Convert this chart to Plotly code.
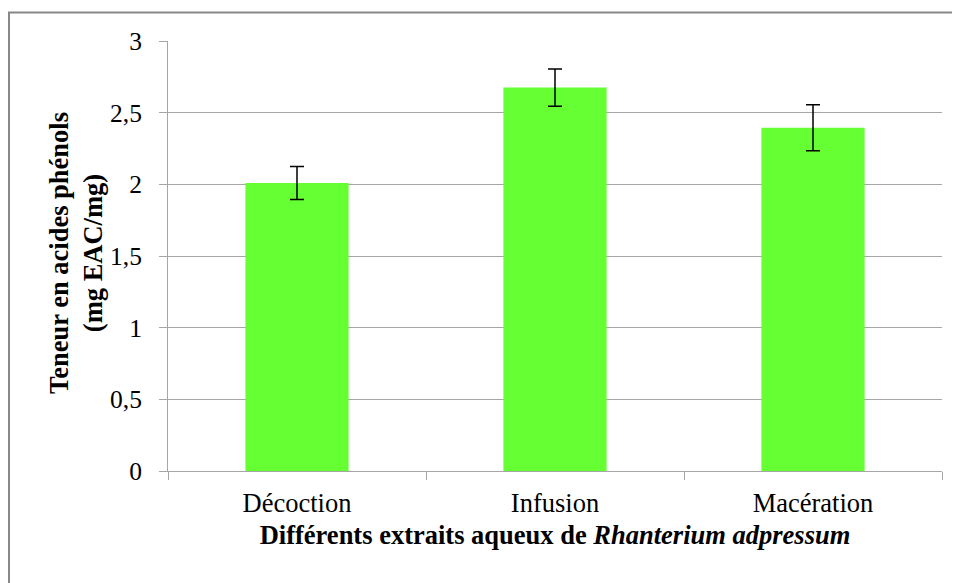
import plotly.graph_objects as go

categories = ["Décoction", "Infusion", "Macération"]
values = [2.01, 2.675, 2.395]
errors = [0.115, 0.13, 0.16]
y_ticks = [0, 0.5, 1, 1.5, 2, 2.5, 3]

FONT = "Liberation Serif"
GRID = "#A6A6A6"

# page body has an 8px margin: figure spans x 8..960, y 8..583
W, H = 952, 575
L, T, R = 160, 33, 18
PH = 430
B = H - T - PH
PW = W - L - R

fig = go.Figure(
    go.Bar(
        x=categories,
        y=values,
        marker=dict(color="#66FF33", line=dict(width=0)),
        error_y=dict(type="data", array=errors, color="black", thickness=1.5, width=7),
    )
)

fig.update_layout(
    width=W,
    height=H,
    margin=dict(l=L, r=R, t=T, b=B),
    paper_bgcolor="white",
    plot_bgcolor="white",
    separators=", ",
    bargap=0.6,
    showlegend=False,
    font=dict(family=FONT, size=26, color="black"),
    xaxis=dict(
        tickson="boundaries",
        ticks="outside",
        ticklen=8,
        tickcolor=GRID,
        showline=True,
        linecolor=GRID,
        linewidth=1,
        showgrid=False,
        ticklabelstandoff=8,
        tickfont=dict(family=FONT, size=26.5),
        title=dict(
            text="<b>Différents extraits aqueux de <i>Rhanterium adpressum</i></b>",
            font=dict(family=FONT, size=26.5),
            standoff=8,
        ),
    ),
    yaxis=dict(
        range=[0, 3],
        tickvals=y_ticks,
        ticks="outside",
        ticklen=8,
        tickcolor=GRID,
        showline=True,
        linecolor=GRID,
        linewidth=1,
        showgrid=True,
        gridcolor=GRID,
        gridwidth=1,
        zeroline=False,
        ticklabelstandoff=12,
        tickfont=dict(family=FONT, size=25.5),
    ),
    annotations=[
        dict(
            text="<b>Teneur en acides phénols<br>(mg EAC/mg)</b>",
            xref="paper",
            yref="paper",
            x=(68 - L) / PW,
            y=1 - (253 - 8 - T) / PH,
            xanchor="center",
            yanchor="middle",
            textangle=-90,
            showarrow=False,
            font=dict(family=FONT, size=26.5, color="black"),
        )
    ],
    shapes=[
        dict(
            type="rect",
            xref="paper",
            yref="paper",
            x0=(1 - L) / PW,
            x1=1.05,
            y0=-0.35,
            y1=1 + (T - 4.5) / PH,
            line=dict(color="#888888", width=2),
            fillcolor="rgba(0,0,0,0)",
            layer="below",
        )
    ],
)

fig.write_html("out.html")
